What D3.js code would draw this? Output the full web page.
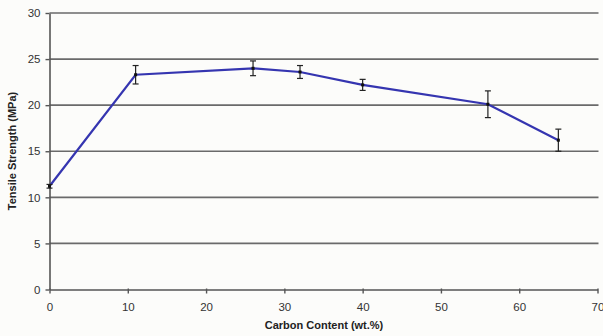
<!DOCTYPE html>
<html>
<head>
<meta charset="utf-8">
<script src="https://cdn.jsdelivr.net/npm/d3@7"></script>
<style>
  body { margin: 0; background: #fcfcfa; }
  svg { display: block; font-family: "Liberation Sans", Arial, sans-serif; }
</style>
</head>
<body>
<script>
// data
var carbon = [0, 11, 26, 32, 40, 56, 65];
var strength = [11.2, 23.3, 24.0, 23.6, 22.2, 20.1, 16.2];
var errorBar = [0.2, 1.0, 0.8, 0.7, 0.6, 1.45, 1.2];
var xTicks = [0, 10, 20, 30, 40, 50, 60, 70];
var yTicks = [0, 5, 10, 15, 20, 25, 30];

var width = 603, height = 336;
var margin = {left: 49.5, right: 5.5, top: 13, bottom: 46.5};

var svg = d3.select('body').append('svg').attr('width', width).attr('height', height);

var x = d3.scaleLinear().domain([0, 70]).range([margin.left, width - margin.right]);
var y = d3.scaleLinear().domain([0, 30]).range([height - margin.bottom, margin.top]);

// horizontal gridlines
svg.append('g').selectAll('line')
   .data(yTicks.filter(function (d) { return d > 0; }))
   .enter().append('line')
   .attr('x1', x(0)).attr('x2', x(70) + 1)
   .attr('y1', function (d) { return y(d); })
   .attr('y2', function (d) { return y(d); })
   .attr('stroke', '#6a6a6a').attr('stroke-width', 1.6);

// axes
var xAxis = svg.append('g')
   .attr('transform', 'translate(0,' + y(0) + ')')
   .call(d3.axisBottom(x).tickValues(xTicks).tickSize(4).tickPadding(9).tickSizeOuter(0));
var yAxis = svg.append('g')
   .attr('transform', 'translate(' + x(0) + ',0)')
   .call(d3.axisLeft(y).tickValues(yTicks).tickSize(4).tickPadding(5).tickSizeOuter(0));

[xAxis, yAxis].forEach(function (a) {
  a.select('.domain').attr('stroke', '#555').attr('stroke-width', 1.6);
  a.selectAll('.tick line').attr('stroke', '#555').attr('stroke-width', 1.4);
  a.selectAll('.tick text').attr('fill', '#333').attr('font-size', 11.5);
});
xAxis.selectAll('.tick line').attr('y2', 4).attr('y1', -1);
yAxis.selectAll('.tick line').attr('x2', -4).attr('x1', 0);

// axis titles
svg.append('text')
   .attr('x', 324).attr('y', 329)
   .attr('text-anchor', 'middle')
   .attr('font-size', 11).attr('font-weight', 'bold').attr('fill', '#222')
   .text('Carbon Content (wt.%)');
svg.append('text')
   .attr('transform', 'translate(16,' + 151 + ') rotate(-90)')
   .attr('text-anchor', 'middle')
   .attr('font-size', 11).attr('font-weight', 'bold').attr('fill', '#222')
   .text('Tensile Strength (MPa)');

var points = carbon.map(function (c, i) { return {x: c, y: strength[i], e: errorBar[i]}; });

// the data line
var line = d3.line().x(function (d) { return x(d.x); }).y(function (d) { return y(d.y); });
svg.append('path')
   .datum(points)
   .attr('d', line)
   .attr('fill', 'none')
   .attr('stroke', '#3535b0')
   .attr('stroke-width', 2.2);

// error bars
var bars = svg.append('g').selectAll('g').data(points).enter().append('g')
   .attr('stroke', '#222').attr('stroke-width', 1.2);
bars.append('line')
   .attr('x1', function (d) { return x(d.x); }).attr('x2', function (d) { return x(d.x); })
   .attr('y1', function (d) { return y(d.y + d.e); }).attr('y2', function (d) { return y(d.y - d.e); });
bars.append('line')
   .attr('x1', function (d) { return x(d.x) - 3; }).attr('x2', function (d) { return x(d.x) + 3; })
   .attr('y1', function (d) { return y(d.y + d.e); }).attr('y2', function (d) { return y(d.y + d.e); });
bars.append('line')
   .attr('x1', function (d) { return x(d.x) - 3; }).attr('x2', function (d) { return x(d.x) + 3; })
   .attr('y1', function (d) { return y(d.y - d.e); }).attr('y2', function (d) { return y(d.y - d.e); });

// small markers
svg.append('g').selectAll('rect').data(points).enter().append('rect')
   .attr('x', function (d) { return x(d.x) - 1.5; })
   .attr('y', function (d) { return y(d.y) - 1.5; })
   .attr('width', 3).attr('height', 3)
   .attr('fill', '#111');
</script>
</body>
</html>
